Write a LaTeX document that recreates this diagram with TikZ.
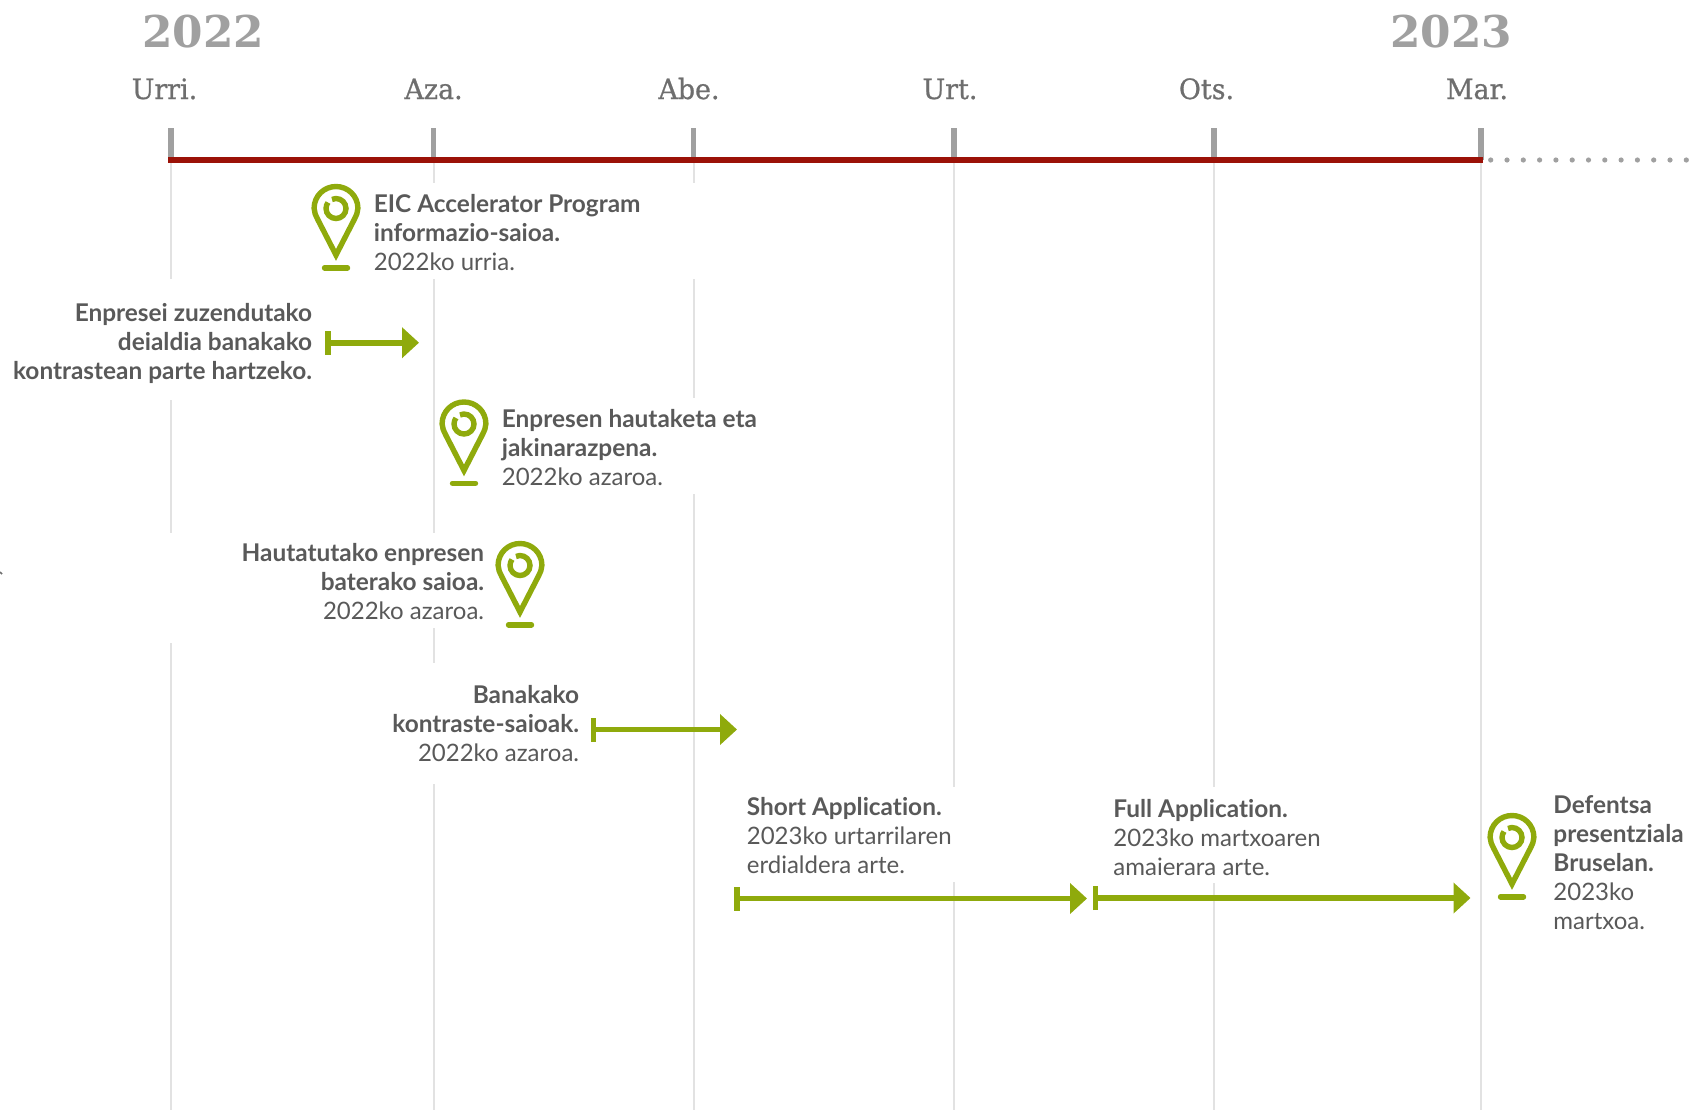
\documentclass[tikz,border=0pt]{standalone}
\usepackage{fontspec}
\setmainfont[Ligatures=NoCommon]{Lato}
\newfontfamily\headfont{DejaVu Serif}
\newfontfamily\monthfont[FakeBold=0.8,FakeStretch=0.96]{DejaVu Serif}
\usetikzlibrary{arrows.meta}
\definecolor{GridColor}{RGB}{226,226,226}
\definecolor{TickColor}{RGB}{160,160,160}
\definecolor{LineColor}{RGB}{155,17,7}
\definecolor{PinColor}{RGB}{143,170,12}
\definecolor{TextColor}{RGB}{89,89,89}
\definecolor{MonthColor}{RGB}{110,110,110}
\newcommand{\eventtitle}[1]{{\fontsize{12.2}{14.5}\selectfont\bfseries #1}}
\tikzset{
  grid line/.style={line width=1pt, GridColor},
  tick line/.style={line width=2.6pt, TickColor},
  time line/.style={line width=3pt, LineColor},
  more dots/.style={fill=TickColor, draw=none, circle, minimum size=2.6pt, inner sep=0pt},
  year label/.style={anchor=base, font=\headfont\bfseries\fontsize{21.9}{24}\selectfont, text=TickColor, inner sep=0pt},
  month label/.style={anchor=base, font=\monthfont\fontsize{14}{16}\selectfont, text=MonthColor, inner sep=0pt},
  event/.style={font=\fontsize{12}{14.5}\selectfont, text=TextColor, inner sep=0pt},
  event left/.style={event, anchor=north west, align=left},
  event right/.style={event, anchor=north east, align=right},
  span arrow/.style={line width=2.8pt, PinColor, {Bar[width=12pt,line width=2.9pt]}-{Triangle[length=8.5pt,width=15pt]}},
  pin line/.style={line width=2.7pt, PinColor, line join=miter},
  pics/pin/.style={code={
      % outline, origin at the top of the pin
      \draw[pin line] (0,71) -- (-18,36) .. controls (-20.5,31) and (-21.9,28) .. (-21.9,24.3)
        .. controls (-21.9,12) and (-12,2.5) .. (0,2.5) .. controls (12,2.5) and (21.9,12) .. (21.9,24.3)
        .. controls (21.9,28) and (20.5,31) .. (18,36) -- cycle;
      % ring and foot
      \draw[pin line] (-4,15.5) .. controls (-1,14.5) and (0,14.5) .. (0,14.5)
        .. controls (5.5,14.5) and (10,19) .. (10,24.5) .. controls (10,30) and (5.5,34.5) .. (0,34.5)
        .. controls (-5.5,34.5) and (-10,30) .. (-10,24.5) .. controls (-10,22) and (-9,20) .. (-8,18.5);
      \draw[pin line, line cap=round] (-11.5,83.8) -- (11.5,83.8);
  }}
}
\begin{document}
\begin{tikzpicture}[x=0.5pt, y=-0.5pt]
    \useasboundingbox (0,0) rectangle (1698,1110);

    % Month lines, with the gaps left for the texts
    \foreach \x/\a/\b in {171/160/279, 171/400/533, 171/643/1110,
                          433.5/160/183, 433.5/279/533, 433.5/628/663, 433.5/784/1110,
                          693.5/160/183, 693.5/279/398, 693.5/494/1110,
                          954/160/787, 954/882/1110,
                          1214/160/787, 1214/883/1110,
                          1481/160/1110} {
            \draw[grid line] (\x,\a) -- (\x,\b);
        }

    % Ticks
    \foreach \x in {171,433.5,693.5,954,1214,1481} {
            \draw[tick line] (\x,128) -- (\x,160);
        }

    % Time line
    \coordinate (linestart) at (168,160);
    \coordinate (lineend) at (1483,160);
    \draw[time line] (linestart) -- (lineend);
    \foreach \i in {0,...,12} {
            \node[more dots] (dot\i) at (1490.7+16.3*\i,160) {};
        }

    % Years and months
    \node[year label] (year2022) at (203,47.7) {2022};
    \node[year label] (year2023) at (1451,47.7) {2023};
    \node[month label] (urri) at (164.5,99) {Urri.};
    \node[month label] (aza) at (433.6,99) {Aza.};
    \node[month label] (abe) at (689,99) {Abe.};
    \node[month label] (urt) at (950,99) {Urt.};
    \node[month label] (ots) at (1206.5,99) {Ots.};
    \node[month label] (mar) at (1477,99) {Mar.};

    % Events
    \pic at (336,184) {pin};
    \node[event left] (eic) at (373.5,194) {\eventtitle{EIC Accelerator Program}\\\eventtitle{informazio-saioa.}\\2022ko urria.};

    \node[event right] (deialdia) at (312.5,302.5) {\eventtitle{Enpresei zuzendutako}\\\eventtitle{deialdia banakako}\\\eventtitle{kontrastean parte hartzeko.}};
    \coordinate (deialdiastart) at (325,342.7);
    \coordinate (deialdiaend) at (419,342.7);
    \draw[span arrow] (deialdiastart) -- (deialdiaend);

    \pic at (464,399.5) {pin};
    \node[event left] (hautaketa) at (501.5,409) {\eventtitle{Enpresen hautaketa eta}\\\eventtitle{jakinarazpena.}\\2022ko azaroa.};

    \node[event right] (baterako) at (484.5,543) {\eventtitle{Hautatutako enpresen}\\\eventtitle{baterako saioa.}\\2022ko azaroa.};
    \pic at (520,541) {pin};

    \node[event right] (banakako) at (579.5,685) {\eventtitle{Banakako}\\\eventtitle{kontraste-saioak.}\\2022ko azaroa.};
    \coordinate (banakakostart) at (590.5,729.5);
    \coordinate (banakakoend) at (737,729.5);
    \draw[span arrow] (banakakostart) -- (banakakoend);

    \node[event left] (short) at (746.5,796.5) {\eventtitle{Short Application.}\\2023ko urtarrilaren\\erdialdera arte.};
    \coordinate (shortstart) at (734,898.5);
    \coordinate (shortend) at (1087,898.5);
    \draw[span arrow] (shortstart) -- (shortend);

    \node[event left] (full) at (1113,798.5) {\eventtitle{Full Application.}\\2023ko martxoaren\\amaierara arte.};
    \coordinate (fullstart) at (1092.5,898);
    \coordinate (fullend) at (1470.5,898);
    \draw[span arrow] (fullstart) -- (fullend);

    \pic at (1512,813) {pin};
    \node[event left] (defentsa) at (1553,795.5) {\eventtitle{Defentsa}\\\eventtitle{presentziala}\\\eventtitle{Bruselan.}\\2023ko\\martxoa.};

    % Scrap at the left edge
    \draw[line width=0.8pt, MonthColor] (0,572) -- (2,574);
\end{tikzpicture}
\end{document}
